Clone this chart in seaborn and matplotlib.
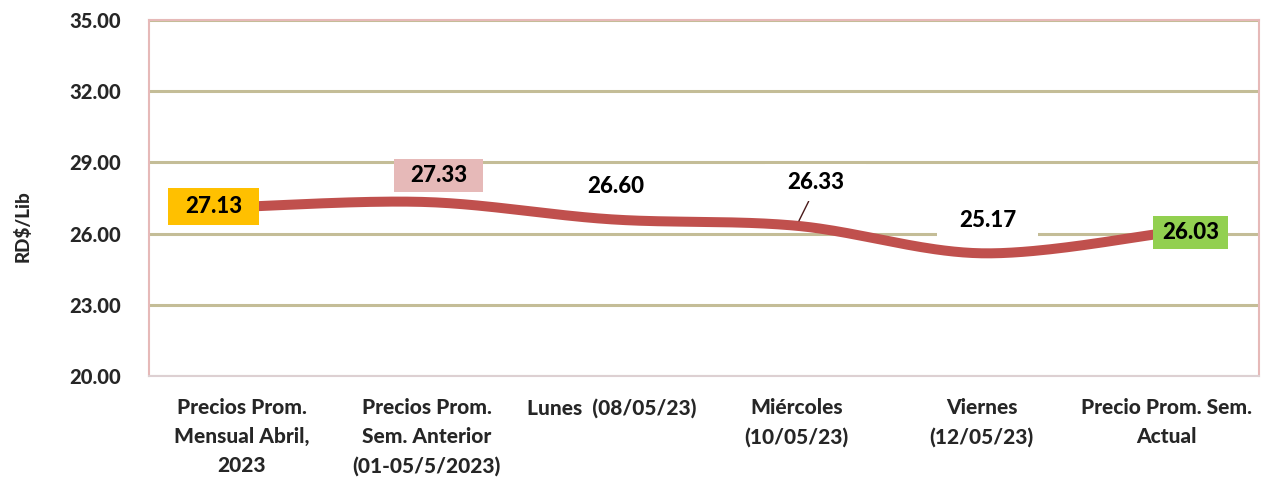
import numpy as np
import pandas as pd
import matplotlib
matplotlib.use("Agg")
import matplotlib.pyplot as plt
import seaborn as sns
from matplotlib.path import Path

# data
categories = [
    "Precios Prom.\nMensual Abril,\n2023",
    "Precios Prom.\nSem. Anterior\n(01-05/5/2023)",
    "Lunes  (08/05/23)",
    "Miércoles\n(10/05/23)",
    "Viernes\n(12/05/23)",
    "Precio Prom. Sem.\nActual",
]
prices = [27.13, 27.33, 26.60, 26.33, 25.17, 26.03]
price_labels = ["27.13", "27.33", "26.60", "26.33", "25.17", "26.03"]
y_ticks = [20, 23, 26, 29, 32, 35]

# label styling (box colour, offset in pixels, padding)
label_colors = ["#FFC000", "#E6B9B8", "white", "white", "white", "#92D050"]
label_offsets = [(-28, 0), (12, 27), (4, 33), (19, 43), (6, 33), (24, 0)]
label_pads = [(17, 8), (16, 6), (28, 8), (22, 8), (22, 8), (9, 6)]

sns.set_style("white")
plt.rcParams["font.family"] = ["Lato", "DejaVu Sans"]
plt.rcParams["font.weight"] = "bold"
W = "black"


def smooth(xs, ys, n=40):
    # catmull-rom curve through the points (like excel's smoothed line)
    px = np.concatenate([[xs[0]], xs, [xs[-1]]])
    py = np.concatenate([[ys[0]], ys, [ys[-1]]])
    out_x, out_y = [], []
    for i in range(1, len(px) - 2):
        t = np.linspace(0, 1, n, endpoint=(i == len(px) - 3))
        for arr, out in ((px, out_x), (py, out_y)):
            p0, p1, p2, p3 = arr[i - 1], arr[i], arr[i + 1], arr[i + 2]
            out.extend(0.5 * ((2 * p1) + (-p0 + p2) * t
                              + (2 * p0 - 5 * p1 + 4 * p2 - p3) * t ** 2
                              + (-p0 + 3 * p1 - 3 * p2 + p3) * t ** 3))
    return np.array(out_x), np.array(out_y)


def padded_box(padx, pady):
    def box(x0, y0, w, h, *args):
        return Path([(x0 - padx, y0 - pady), (x0 + w + padx, y0 - pady),
                     (x0 + w + padx, y0 + h + pady), (x0 - padx, y0 + h + pady),
                     (x0 - padx, y0 - pady)], closed=True)
    return box


xpos = np.arange(len(prices))
sx, sy = smooth(xpos.astype(float), np.array(prices, dtype=float))
curve = pd.DataFrame({"x": sx, "y": sy})

fig = plt.figure(figsize=(12.62, 4.79), dpi=100)
ax = fig.add_axes([149 / 1262, 103 / 479, 1110 / 1262, 356 / 479])

sns.lineplot(data=curve, x="x", y="y", ax=ax, color="#C0504D", linewidth=7.2,
             sort=False, zorder=3)

ax.set_xlim(-0.5, len(prices) - 0.5)
ax.set_ylim(20, 35)
ax.set_yticks(y_ticks)
ax.set_yticklabels([f"{v:.2f}" for v in y_ticks], fontsize=14.5, fontweight=W)
ax.set_xticks(xpos)
ax.set_xticklabels(categories, fontsize=15, fontweight=W, linespacing=1.6, va="top")
ax.tick_params(axis="x", length=0, pad=16)
ax.tick_params(axis="y", length=0, pad=20)
ax.set_xlabel("")
ax.set_ylabel("RD$/Lib", fontsize=13.5, fontweight=W)
ax.yaxis.set_label_coords(-0.106, 0.42)

ax.set_axisbelow(True)
ax.yaxis.grid(True, color="#C4BD97", linewidth=2.2)
ax.xaxis.grid(False)
for side in ["left", "top", "right"]:
    ax.spines[side].set_color("#E6B9B8")
    ax.spines[side].set_linewidth(1.5)
ax.spines["bottom"].set_color("#DDD0D2")
ax.spines["bottom"].set_linewidth(1.5)

for i, (val, txt) in enumerate(zip(prices, price_labels)):
    dx, dy = label_offsets[i]
    padx, pady = label_pads[i]
    arrow = None
    if i == 3:
        arrow = dict(arrowstyle="-", color="#4A1A1A", lw=1, shrinkA=0, shrinkB=4,
                     relpos=(0.45, 0))
    ax.annotate(txt, xy=(xpos[i], val), xytext=(dx, dy), textcoords="offset pixels",
                ha="center", va="center", fontsize=16, fontweight=W, color="black",
                bbox=dict(boxstyle=padded_box(padx, pady), fc=label_colors[i], ec="none"),
                arrowprops=arrow, zorder=4)

fig.savefig("out.png", dpi=100)
